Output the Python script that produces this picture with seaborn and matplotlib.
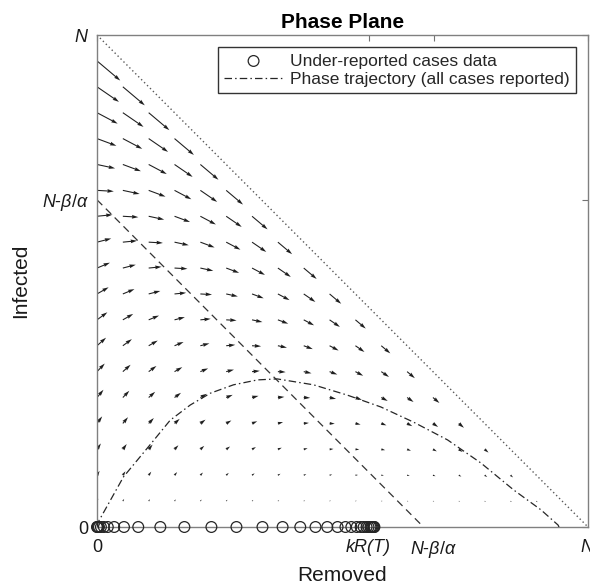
import matplotlib
matplotlib.use("Agg")
import matplotlib.pyplot as plt
import numpy as np
import pandas as pd
import seaborn as sns

# ---------------------- 模型参数 (N = 1) ----------------------
N = 1.0
alpha = 1.0
beta = 0.335          # beta/alpha, N - beta/alpha = 0.665

# 不完全报告数据 (kR, I=0)
removed_data = [0.0, 0.001, 0.002, 0.004, 0.008, 0.014, 0.022, 0.035, 0.055, 0.084,
                0.129, 0.178, 0.233, 0.284, 0.337, 0.378, 0.414, 0.445, 0.469, 0.490,
                0.506, 0.518, 0.529, 0.537, 0.543, 0.549, 0.553, 0.557, 0.559, 0.561,
                0.563, 0.564, 0.565]
infected_data = [0.0] * len(removed_data)

# 相轨迹 (全部报告) 读取的点
traj_R = [0.0, 0.003, 0.054, 0.108, 0.149, 0.190, 0.231, 0.278, 0.327, 0.367,
          0.441, 0.510, 0.578, 0.645, 0.714, 0.782, 0.849, 0.904, 0.939, 0.941]
traj_I = [0.0, 0.011, 0.102, 0.167, 0.217, 0.248, 0.272, 0.289, 0.299, 0.301,
          0.289, 0.268, 0.244, 0.213, 0.177, 0.130, 0.075, 0.035, 0.004, 0.0]

x_ticks = [0, 0.553, 0.686, 1]
x_labels = ['0', 'kR(T)', r'$N$-$\beta/\alpha$', r'$N$']
y_ticks = [0, 0.665, 1]
y_labels = ['0', r'$N$-$\beta/\alpha$', r'$N$']

# ---------------------- 风格 ----------------------
sns.set_theme(style="white")
plt.rcParams['font.family'] = ['Liberation Sans', 'DejaVu Sans']
plt.rcParams['mathtext.fontset'] = 'custom'
plt.rcParams['mathtext.it'] = 'Liberation Sans:italic'
plt.rcParams['mathtext.rm'] = 'Liberation Sans'
plt.rcParams['mathtext.bf'] = 'Liberation Sans:bold'

fig = plt.figure(figsize=(5.9, 5.85), dpi=100)
ax = fig.add_axes([97 / 590, 1 - 527 / 585, 491 / 590, 492 / 585])

# ---------------------- 向量场 ----------------------
grid = np.linspace(0, N, 20)
RR, II = np.meshgrid(grid, grid)
mask = (RR + II < N - 1e-6) & (II > 0)
R_q, I_q = RR[mask], II[mask]
dR = beta * I_q
dI = I_q * (alpha * (N - I_q - R_q) - beta)
ax.quiver(R_q, I_q, dR, dI, angles='xy', scale_units='xy', scale=6.7,
          width=0.0022, headwidth=3.5, headlength=6, headaxislength=5.5,
          color='0.12', zorder=2)

# 边界 S=0 与零等倾线
ax.plot([0, N], [N, 0], linestyle=(0, (1, 2)), color='0.35', lw=1.0, zorder=1)
ax.plot([0, N - beta / alpha], [N - beta / alpha, 0], linestyle=(0, (6, 4)),
        color='0.2', lw=0.9, zorder=1)

# 相轨迹
traj = pd.DataFrame({'R': traj_R, 'I': traj_I})
sns.lineplot(data=traj, x='R', y='I', sort=False, ax=ax, color='0.15', lw=0.9,
             linestyle=(0, (6, 2.5, 1.2, 2.5)), label='Phase trajectory (all cases reported)',
             zorder=3, legend=False)

# 数据点
pts = pd.DataFrame({'R': removed_data, 'I': infected_data})
sns.scatterplot(data=pts, x='R', y='I', ax=ax, marker='o', s=60, facecolor='none',
                edgecolor='0.15', linewidth=0.9, clip_on=False, zorder=4,
                label='Under-reported cases data', legend=False)

# ---------------------- 坐标轴 ----------------------
ax.set_xlim(0, N)
ax.set_ylim(0, N)
ax.set_xticks(x_ticks)
ax.set_xticklabels(x_labels)
ax.set_yticks(y_ticks)
ax.set_yticklabels(y_labels)
ax.get_xticklabels()[1].set_fontstyle('italic')
ax.tick_params(direction='in', length=4, width=0.8, color='0.45', top=True, right=True,
               labelsize=13, labelcolor='0.1')
ax.tick_params(axis='x', pad=9)
ax.tick_params(axis='y', pad=6)
for sp in ax.spines.values():
    sp.set_color('0.5')
    sp.set_linewidth(1.0)
    sp.set_visible(True)

ax.set_xlabel('Removed', fontsize=15, labelpad=4, color='0.1')
ax.set_ylabel('Infected', fontsize=15, labelpad=8, color='0.1')
ax.set_title('Phase Plane', fontsize=15, fontweight='bold', pad=5, color='black')

handles, labels = ax.get_legend_handles_labels()
order = [labels.index('Under-reported cases data'),
         labels.index('Phase trajectory (all cases reported)')]
leg = ax.legend([handles[i] for i in order], [labels[i] for i in order],
                loc='upper right', bbox_to_anchor=(0.975, 0.975), fontsize=12.5,
                frameon=True, fancybox=False, edgecolor='0.2', framealpha=1,
                handlelength=3.4, handletextpad=0.4, borderpad=0.35,
                labelspacing=0.2, borderaxespad=0)
leg.get_frame().set_linewidth(1.0)

fig.savefig('out.png', dpi=100)
